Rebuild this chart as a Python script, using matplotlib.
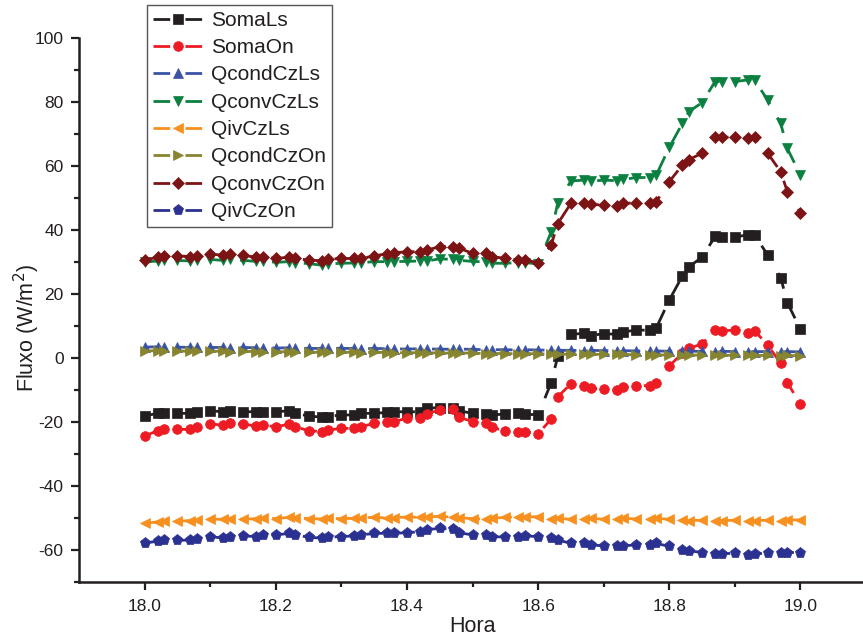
"""
Fluxos de calor na zona (Ls x On) entre 18h e 19h.
"""
import matplotlib
matplotlib.use("Agg")
import matplotlib.pyplot as plt

plt.rcParams['font.family'] = ['Liberation Sans', 'DejaVu Sans']
plt.rcParams['axes.unicode_minus'] = False

# ------------------------------------------------------------------
# Dados (hora decimal, W/m2)
# ------------------------------------------------------------------
hora = [18.00, 18.02, 18.03, 18.05, 18.07, 18.08, 18.10, 18.12, 18.13, 18.15,
        18.17, 18.18, 18.20, 18.22, 18.23, 18.25, 18.27, 18.28, 18.30, 18.32,
        18.33, 18.35, 18.37, 18.38, 18.40, 18.42, 18.43, 18.45, 18.47, 18.48,
        18.50, 18.52, 18.53, 18.55, 18.57, 18.58, 18.60, 18.62, 18.63, 18.65,
        18.67, 18.68, 18.70, 18.72, 18.73, 18.75, 18.77, 18.78, 18.80, 18.82,
        18.83, 18.85, 18.87, 18.88, 18.90, 18.92, 18.93, 18.95, 18.97, 18.98,
        19.00]

soma_ls = [-18.1, -17.3, -17.1, -17.3, -17.3, -16.8, -16.5, -16.8, -16.5, -16.8,
           -16.8, -16.8, -16.8, -16.5, -17.3, -18.1, -18.5, -18.3, -17.8, -17.8,
           -17.3, -17.3, -17.0, -16.8, -16.8, -16.8, -15.7, -15.5, -15.7, -16.5,
           -17.3, -17.5, -17.8, -17.5, -17.3, -17.5, -17.8, -7.7, 0.5, 7.4,
           7.7, 7.0, 7.6, 7.4, 8.2, 8.7, 8.7, 9.3, 18.1, 25.6,
           28.5, 31.5, 38.0, 37.8, 37.8, 38.5, 38.5, 32.2, 25.1, 17.3,
           9.0]

soma_on = [-24.4, -22.7, -22.1, -22.3, -22.3, -21.7, -20.6, -21.0, -20.4, -20.7,
           -21.2, -20.9, -21.5, -20.7, -21.5, -22.7, -23.0, -22.5, -22.0, -22.0,
           -21.5, -20.4, -19.9, -19.9, -18.8, -18.6, -17.5, -16.2, -16.0, -18.5,
           -19.9, -20.2, -21.7, -22.8, -23.0, -23.0, -23.7, -19.1, -12.1, -8.1,
           -8.7, -9.5, -9.8, -10.0, -9.2, -8.7, -8.6, -7.9, -2.5, 1.5,
           3.0, 4.4, 8.7, 8.5, 8.7, 7.7, 8.5, 4.1, -1.7, -7.7,
           -14.4]

qcond_cz_ls = [3.4, 3.5, 3.4, 3.4, 3.3, 3.4, 3.3, 3.3, 3.2, 3.3,
               3.2, 3.2, 3.1, 3.2, 3.1, 3.0, 3.0, 3.1, 3.0, 3.0,
               2.9, 3.0, 2.9, 2.9, 2.8, 2.9, 2.8, 2.8, 2.7, 2.8,
               2.7, 2.6, 2.6, 2.6, 2.5, 2.6, 2.5, 2.4, 2.4, 2.4,
               2.3, 2.4, 2.3, 2.3, 2.3, 2.2, 2.2, 2.2, 2.1, 2.2,
               2.1, 2.1, 2.0, 2.1, 2.0, 2.0, 2.0, 2.0, 1.9, 2.0,
               1.9]

qconv_cz_ls = [30.0, 30.3, 30.5, 30.5, 30.3, 30.5, 30.8, 30.5, 30.8, 30.5,
               30.2, 30.3, 29.9, 30.1, 29.8, 29.5, 29.0, 29.4, 29.6, 29.7,
               29.8, 30.1, 30.1, 30.1, 30.2, 30.3, 30.3, 31.0, 30.8, 30.5,
               30.2, 30.0, 29.6, 29.6, 29.8, 29.8, 29.4, 39.4, 48.4, 55.3,
               55.6, 55.2, 55.6, 55.4, 55.8, 56.4, 56.4, 57.1, 65.8, 73.3,
               77.0, 79.8, 86.4, 86.4, 86.4, 86.9, 86.9, 80.6, 73.3, 65.5,
               57.2]

qiv_cz_ls = [-51.7, -51.2, -51.0, -51.0, -50.8, -50.6, -50.4, -50.4, -50.2, -50.4,
             -50.2, -50.0, -50.2, -49.8, -49.9, -50.2, -50.3, -50.1, -50.2, -50.1,
             -49.9, -49.8, -50.0, -49.9, -49.7, -49.8, -49.6, -49.5, -49.7, -49.9,
             -50.2, -50.4, -50.1, -49.8, -49.6, -49.6, -49.6, -50.3, -50.1, -50.4,
             -50.3, -50.1, -50.4, -50.3, -50.1, -50.3, -50.2, -50.1, -50.4, -50.6,
             -50.8, -50.7, -50.9, -50.8, -50.7, -50.9, -50.8, -50.7, -50.8, -50.6,
             -50.6]

qcond_cz_on = [2.2, 2.3, 2.2, 2.2, 2.1, 2.2, 2.1, 2.1, 2.0, 2.1,
               2.0, 2.0, 1.9, 2.0, 1.9, 1.8, 1.8, 1.9, 1.8, 1.8,
               1.7, 1.8, 1.7, 1.7, 1.6, 1.7, 1.6, 1.6, 1.5, 1.6,
               1.5, 1.4, 1.4, 1.4, 1.3, 1.4, 1.3, 1.2, 1.2, 1.2,
               1.1, 1.2, 1.1, 1.1, 1.1, 1.0, 1.0, 1.0, 0.9, 1.0,
               0.9, 0.9, 0.8, 0.9, 0.8, 0.8, 0.8, 0.8, 0.7, 0.8,
               0.7]

qconv_cz_on = [30.6, 31.5, 31.9, 31.9, 31.7, 31.9, 32.5, 32.1, 32.5, 32.1,
               31.5, 31.7, 31.1, 31.5, 31.1, 30.6, 30.4, 30.9, 31.1, 31.1,
               31.1, 31.9, 32.6, 32.9, 33.2, 33.2, 33.7, 34.8, 34.8, 34.3,
               32.7, 32.7, 31.7, 31.1, 30.6, 30.6, 29.8, 35.3, 42.0, 48.3,
               48.5, 48.0, 47.8, 47.5, 48.3, 48.5, 48.5, 48.8, 55.1, 60.3,
               62.0, 64.0, 69.0, 69.0, 69.0, 68.6, 69.0, 64.0, 58.2, 52.0,
               45.4]

qiv_cz_on = [-57.9, -57.2, -56.9, -57.0, -56.9, -56.6, -55.8, -56.3, -55.8, -55.6,
             -55.8, -55.3, -55.3, -54.8, -55.3, -56.0, -56.3, -56.0, -55.8, -55.6,
             -55.3, -54.8, -54.8, -54.8, -54.6, -54.3, -53.7, -53.2, -53.5, -54.6,
             -55.3, -55.3, -55.8, -56.0, -55.8, -55.6, -55.8, -56.3, -56.9, -57.9,
             -57.9, -58.4, -58.7, -58.9, -58.7, -58.4, -58.4, -57.9, -58.9, -60.0,
             -60.2, -60.8, -61.2, -61.2, -61.0, -61.5, -61.2, -61.0, -61.0, -60.8,
             -60.8]

# nome, valores, cor, marcador, tamanho
series = [
    ("SomaLs", soma_ls, '#231f20', 's', 6.5),
    ("SomaOn", soma_on, '#ed1c24', 'o', 7.0),
    ("QcondCzLs", qcond_cz_ls, '#3a53a4', '^', 7.5),
    ("QconvCzLs", qconv_cz_ls, '#0b8040', 'v', 7.5),
    ("QivCzLs", qiv_cz_ls, '#f7901e', '<', 7.5),
    ("QcondCzOn", qcond_cz_on, '#878530', '>', 7.5),
    ("QconvCzOn", qconv_cz_on, '#7c1416', 'D', 6.5),
    ("QivCzOn", qiv_cz_on, '#2b3190', 'p', 8.0),
]

fig = plt.figure(figsize=(8.63, 6.36), dpi=100)
ax = fig.add_axes([79 / 863, 54 / 636, 787 / 863, 544 / 636])

for nome, valores, cor, marc, tam in series:
    ax.plot(hora, valores, color=cor, linewidth=2.0, dashes=(6, 5.5),
            marker=marc, markersize=tam, markerfacecolor=cor,
            markeredgecolor=cor, markeredgewidth=0.5, label=nome)

ax.set_xlim(17.9, 19.1)
ax.set_ylim(-70, 100)

ax.set_xticks([18.0, 18.2, 18.4, 18.6, 18.8, 19.0])
ax.set_xticklabels(['18.0', '18.2', '18.4', '18.6', '18.8', '19.0'])
ax.set_xticks([18.1, 18.3, 18.5, 18.7, 18.9], minor=True)
ax.set_yticks([-60, -40, -20, 0, 20, 40, 60, 80, 100])
ax.set_yticks([-70, -50, -30, -10, 10, 30, 50, 70, 90], minor=True)

for lado in ['top', 'right']:
    ax.spines[lado].set_visible(False)
for lado in ['left', 'bottom']:
    ax.spines[lado].set_linewidth(1.8)
    ax.spines[lado].set_color('#231f20')

ax.tick_params(which='major', direction='out', length=6, width=1.6,
               labelsize=12.5, color='#231f20', labelcolor='#231f20')
ax.tick_params(which='minor', direction='out', length=3.5, width=1.6,
               color='#231f20')
ax.tick_params(axis='x', which='major', pad=6.5)
ax.tick_params(axis='y', which='major', pad=5)

ax.set_xlabel("Hora", fontsize=15.5, color='#231f20')
ax.set_ylabel("Fluxo (W/m$^2$)", fontsize=15.5, color='#231f20')
ax.xaxis.set_label_coords(0.5, -0.062)
ax.yaxis.set_label_coords(-0.047, 0.467)

leg = fig.legend(loc='upper left', bbox_to_anchor=(147 / 863, 1 - 5 / 636),
                 borderaxespad=0, fontsize=15, fancybox=False,
                 edgecolor='#555555', framealpha=1, handlelength=2.4,
                 handletextpad=0.4, borderpad=0.28, labelspacing=0.4)
leg.get_frame().set_linewidth(1.0)
for txt in leg.get_texts():
    txt.set_color('#231f20')

fig.savefig("out.png", dpi=100)
